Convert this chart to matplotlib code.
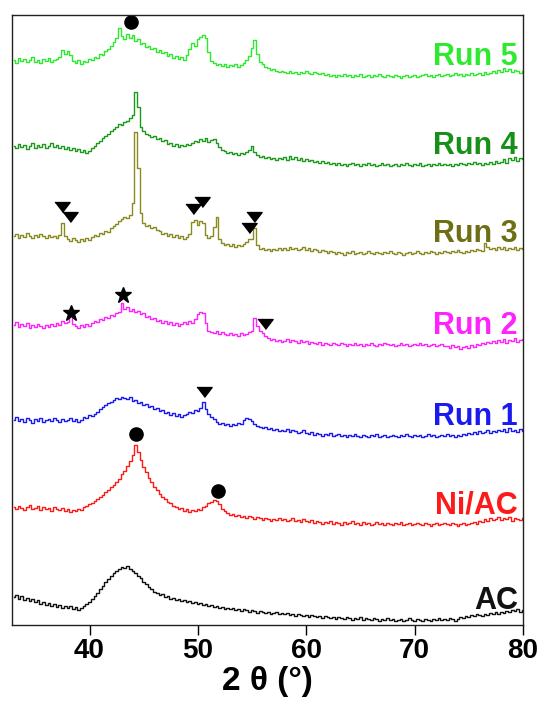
# ============================================================
# FILE: plot.py
#
# Difratogramas de raios-X (AC, Ni/AC e Run 1-5), empilhados.
# Gera out.png (541x707 px).
# ============================================================

import numpy as np
import matplotlib
matplotlib.use("Agg")
import matplotlib.pyplot as plt
import matplotlib.transforms as mtransforms


# ============================================================
# DADOS (intensidade relativa à linha de base de cada curva)
# ============================================================

TWO_THETA = np.arange(33.0, 80.001, 0.25)   # grelha de 2θ (189 pontos)

AC = [
    23, 25, 21, 24, 20, 22, 19, 21, 18, 20, 16, 18, 15, 17, 14, 16, 13, 15, 12, 14,
    12, 14, 11, 13, 10, 12, 14, 16, 18, 21, 24, 27, 31, 34, 38, 41, 44, 47, 49, 51,
    53, 52, 54, 51, 49, 47, 44, 42, 38, 36, 33, 31, 28, 27, 25, 26, 23, 24, 21, 22,
    20, 21, 19, 20, 18, 19, 17, 18, 16, 17, 15, 16, 14, 15, 13, 14, 12, 13, 11, 12,
    11, 12, 10, 11, 9, 11, 10, 8, 10, 9, 7, 9, 8, 7, 8, 6, 7, 8, 6, 7,
    6, 7, 5, 6, 4, 6, 5, 4, 5, 3, 5, 4, 3, 4, 2, 4, 3, 2, 3, 1,
    3, 2, 1, 3, 2, 0, 2, 1, 3, 0, 2, 1, 0, 2, 1, -1, 1, 0, 2, 0,
    1, -1, 0, 1, -1, 0, 2, 0, -1, 1, 0, -1, 1, 0, -1, 1, 0, 2, 0, 1,
    0, 2, 1, -1, 1, 3, 2, 4, 3, 5, 4, 6, 5, 4, 6, 5, 7, 6, 8, 6,
    8, 7, 9, 8, 10, 9, 11, 8, 10,
]

NI_AC = [
    17, 15, 18, 16, 14, 17, 19, 15, 16, 18, 14, 17, 15, 16, 13, 17, 15, 14, 16, 13,
    15, 12, 14, 13, 15, 14, 17, 18, 20, 21, 23, 25, 27, 29, 32, 34, 37, 39, 42, 45,
    50, 53, 58, 63, 69, 79, 72, 64, 57, 52, 46, 42, 37, 34, 30, 27, 25, 22, 21, 18,
    17, 15, 16, 13, 15, 12, 14, 13, 15, 14, 17, 18, 21, 22, 24, 23, 20, 15, 13, 11,
    9, 10, 8, 9, 7, 8, 6, 8, 7, 5, 7, 6, 4, 6, 5, 3, 5, 4, 6, 4,
    5, 3, 4, 6, 3, 4, 2, 5, 3, 2, 4, 1, 3, 2, 0, 2, 1, 3, 0, 2,
    1, -1, 2, 0, 1, 3, 0, 1, -1, 2, 0, 1, -1, 0, 2, 0, 1, -1, 1, 0,
    -1, 1, 0, 2, -1, 0, 1, -1, 0, 1, 0, -1, 1, 0, -2, 0, 1, -1, 0, 1,
    0, -1, 1, 0, -2, 0, 1, -1, 0, 1, 2, 0, 3, 2, 5, 3, 6, 4, 5, 7,
    4, 6, 5, 7, 3, 6, 5, 4, 6,
]

RUN_1 = [
    16, 19, 15, 17, 14, 18, 16, 13, 17, 15, 18, 14, 16, 17, 15, 18, 16, 14, 17, 15,
    16, 18, 15, 17, 14, 16, 19, 18, 21, 20, 22, 24, 27, 29, 31, 33, 34, 36, 38, 37,
    39, 38, 37, 39, 35, 36, 33, 34, 31, 32, 29, 30, 27, 28, 25, 26, 23, 24, 21, 23,
    20, 22, 19, 21, 22, 24, 23, 26, 25, 28, 34, 27, 22, 19, 17, 14, 12, 13, 11, 12,
    10, 12, 11, 13, 12, 16, 18, 17, 15, 12, 10, 9, 8, 9, 7, 8, 6, 7, 5, 6,
    5, 7, 4, 6, 5, 3, 4, 6, 3, 2, 4, 1, 3, 2, 0, 2, 1, 3, 0, 1,
    2, 0, 1, -1, 1, 0, 2, 0, -1, 1, 0, -1, 1, 0, 2, -1, 0, 1, -1, 0,
    1, 0, -1, 1, 0, 2, 0, -1, 1, 0, 1, -1, 0, 2, 0, 1, -1, 0, 1, 0,
    2, 0, 1, -1, 1, 0, 2, 1, 3, 2, 4, 2, 5, 3, 4, 6, 3, 5, 4, 6,
    5, 7, 4, 8, 5, 6, 4, 7, 5,
]

RUN_2 = [
    20, 23, 18, 21, 19, 22, 17, 20, 18, 21, 19, 17, 20, 18, 21, 19, 22, 20, 24, 22,
    23, 30, 21, 19, 17, 20, 18, 21, 19, 22, 24, 23, 26, 25, 28, 27, 30, 29, 32, 33,
    42, 36, 38, 34, 36, 33, 34, 31, 32, 28, 29, 26, 27, 24, 25, 22, 24, 21, 23, 20,
    22, 19, 21, 23, 21, 24, 22, 26, 31, 33, 32, 22, 14, 13, 12, 14, 11, 13, 11, 10,
    12, 10, 11, 9, 12, 10, 11, 13, 14, 27, 19, 14, 12, 9, 7, 5, 6, 4, 5, 3,
    4, 6, 3, 5, 4, 2, 5, 3, 4, 1, 3, 2, 1, 3, 0, 2, 1, 0, 2, 1,
    0, 2, 1, -1, 1, 0, 2, 0, 1, -1, 1, 0, 2, 0, -1, 1, 0, 2, 1, 0,
    1, -1, 0, 2, 0, 1, -1, 0, 1, 0, 2, 0, 1, -1, 0, 1, -1, 0, 1, -1,
    -1, -3, 0, -2, -1, -4, -2, -1, -3, 0, -2, 1, 0, 2, 1, 3, 2, 4, 2, 5,
    3, 6, 2, 5, 4, 7, 3, 5, 6,
]

RUN_3 = [
    17, 19, 15, 18, 16, 20, 17, 15, 18, 16, 19, 17, 15, 18, 16, 17, 15, 18, 30, 17,
    14, 12, 15, 13, 11, 14, 12, 15, 13, 16, 18, 17, 20, 19, 22, 21, 25, 27, 29, 32,
    34, 36, 35, 38, 50, 121, 85, 40, 30, 27, 28, 25, 26, 23, 22, 19, 20, 17, 19, 16,
    18, 15, 17, 14, 16, 19, 31, 33, 28, 32, 30, 18, 15, 17, 26, 36, 14, 10, 8, 9,
    7, 9, 6, 8, 7, 9, 11, 14, 14, 25, 8, 4, 5, 3, 4, 2, 4, 3, 5, 3,
    5, 3, 6, 4, 5, 3, 4, 6, 3, 5, 2, 4, 3, 1, 3, 2, 0, 2, 1, -1,
    1, 0, -2, 1, 0, 2, -1, 0, 1, -1, 0, 2, 0, -1, 1, 0, -1, 1, 0, 2,
    0, -1, 1, 0, -2, 0, 1, -1, 0, 2, 0, -1, 1, 0, 2, 1, -1, 1, 0, 2,
    1, 0, 2, 1, 3, 1, 0, 2, 1, 3, 2, 4, 3, 2, 10, 6, 4, 5, 3, 6,
    4, 6, 3, 5, 4, 6, 3, 5, 4,
]

RUN_4 = [
    19, 17, 21, 18, 20, 16, 19, 22, 17, 20, 18, 21, 17, 19, 22, 18, 20, 17, 19, 16,
    18, 15, 17, 14, 16, 13, 15, 12, 14, 17, 19, 22, 24, 27, 29, 31, 34, 36, 38, 41,
    40, 43, 44, 47, 50, 73, 58, 38, 34, 31, 30, 28, 29, 26, 27, 24, 25, 21, 22, 19,
    21, 18, 20, 19, 21, 20, 22, 24, 23, 26, 24, 27, 23, 25, 26, 22, 18, 15, 14, 12,
    13, 11, 12, 10, 12, 11, 13, 15, 19, 13, 10, 8, 9, 7, 8, 6, 7, 5, 7, 6,
    8, 5, 9, 6, 8, 5, 7, 4, 6, 4, 5, 3, 4, 2, 4, 2, 3, 1, 2, 0,
    2, 0, 1, -1, 1, 2, 0, 1, -1, 1, 0, 2, 0, 1, -1, 0, 2, 0, 1, -1,
    0, 1, -1, 1, 0, 2, 0, -1, 1, 0, 2, -1, 0, 1, -1, 1, 0, 2, 0, 1,
    0, 1, -1, 1, 0, 2, 1, 0, 2, 1, 3, 1, 2, 0, 2, 1, 3, 1, 4, 2,
    3, 6, 2, 7, 5, 8, 4, 7, 6,
]

RUN_5 = [
    16, 13, 18, 15, 17, 14, 16, 19, 14, 16, 13, 17, 15, 18, 14, 16, 17, 19, 26, 22,
    25, 21, 15, 13, 16, 12, 15, 14, 17, 16, 19, 18, 22, 21, 25, 27, 30, 34, 38, 48,
    40, 37, 42, 38, 41, 35, 37, 32, 33, 29, 30, 27, 28, 24, 26, 23, 24, 20, 22, 18,
    20, 17, 19, 16, 21, 27, 33, 30, 37, 39, 41, 38, 24, 15, 13, 11, 12, 10, 12, 9,
    11, 10, 12, 9, 11, 13, 16, 20, 28, 36, 22, 14, 12, 9, 8, 6, 7, 5, 4, 5,
    4, 3, 5, 3, 4, 2, 4, 3, 5, 3, 2, 4, 3, 2, 3, 1, 2, 0, 1, -1,
    1, 0, 2, 0, 1, -1, 1, 0, 2, -1, 0, 1, -1, 1, 0, 2, 0, -1, 1, 0,
    -1, 1, 0, -2, 0, 1, -1, 0, 1, -1, 0, 1, 2, 0, 1, -1, 1, 2, 0, 1,
    2, 0, 1, 3, 1, 2, 0, 2, 1, 3, 1, 2, 3, 1, 4, 2, 3, 5, 3, 6,
    4, 8, 5, 7, 4, 6, 5, 3, 5,
]

SERIES  = ["AC", "Ni/AC", "Run 1", "Run 2", "Run 3", "Run 4", "Run 5"]
VALUES  = [AC, NI_AC, RUN_1, RUN_2, RUN_3, RUN_4, RUN_5]
OFFSETS = [5, 101, 189, 280, 372, 460, 549]

# Marcadores de fases: série, posição 2θ e altura acima da linha de base
CIRCLE_RUN = ["Run 5", "Ni/AC", "Ni/AC"]
CIRCLE_T   = [43.8, 44.27, 51.81]
CIRCLE_H   = [54, 90, 33]

TRI_RUN = ["Run 3", "Run 3", "Run 3", "Run 3", "Run 3", "Run 3", "Run 2", "Run 1"]
TRI_T   = [37.48, 38.18, 49.54, 50.37, 54.68, 55.2, 56.15, 50.52]
TRI_H   = [46, 36, 44, 51, 25, 36, 21, 44]

STAR_RUN = ["Run 2", "Run 2"]
STAR_T   = [38.3, 43.13]
STAR_H   = [32, 50]

X_TICKS = [40, 50, 60, 70, 80]


# ============================================================
# CONFIGURAÇÃO VISUAL
# ============================================================

LINE_COLORS = {
    "AC":    "#111111",
    "Ni/AC": "#FF1A1A",
    "Run 1": "#1A1AF0",
    "Run 2": "#FF22FF",
    "Run 3": "#8A8A22",
    "Run 4": "#1C9A1C",
    "Run 5": "#2EEA2E",
}

# o texto do Run 3 é um pouco mais escuro que a linha
TEXT_COLORS = dict(LINE_COLORS)
TEXT_COLORS["Run 3"] = "#6E6E14"
TEXT_COLORS["Run 4"] = "#179017"

plt.rcParams["font.family"] = ["Liberation Sans", "DejaVu Sans"]
plt.rcParams["font.weight"] = "bold"

TRI_MARKER = [(-1, 0.65), (1, 0.65), (0, -0.65)]   # triângulo achatado


# ============================================================
# PLOT
# ============================================================

fig = plt.figure(figsize=(5.41, 7.07), dpi=100)
ax = fig.add_axes([0.02126, 0.11598, 0.9455, 0.8628])

base = dict(zip(SERIES, OFFSETS))
trans = mtransforms.blended_transform_factory(ax.transAxes, ax.transData)

for name, vals, off in zip(SERIES, VALUES, OFFSETS):
    y = np.asarray(vals, dtype=float) + off
    ax.plot(TWO_THETA, y, color=LINE_COLORS[name], linewidth=1.0,
            drawstyle="steps-mid")

    # rótulo à direita, alinhado pela base do texto
    ax.text(0.99, off + 11, name, transform=trans, color=TEXT_COLORS[name],
            fontsize=22, fontweight="bold", ha="right", va="baseline")

# marcadores
ax.plot(CIRCLE_T, [base[r] + h for r, h in zip(CIRCLE_RUN, CIRCLE_H)],
        linestyle="none", marker="o", markersize=9.5, color="black")
ax.plot(TRI_T, [base[r] + h for r, h in zip(TRI_RUN, TRI_H)],
        linestyle="none", marker=TRI_MARKER, markersize=11, color="black")
ax.plot(STAR_T, [base[r] + h for r, h in zip(STAR_RUN, STAR_H)],
        linestyle="none", marker="*", markersize=12, color="black")

ax.set_xlim(32.8, 80)
ax.set_ylim(0, 610)
ax.set_yticks([])
ax.set_xticks(X_TICKS)
ax.set_xticklabels([str(t) for t in X_TICKS])
ax.tick_params(axis="x", direction="out", length=7, width=1.0,
               labelsize=20, pad=2)
for lab in ax.get_xticklabels():
    lab.set_fontweight("bold")

for spine in ax.spines.values():
    spine.set_linewidth(1.0)
    spine.set_color("#222222")

ax.set_xlabel("2 θ (°)", fontsize=24, fontweight="bold", labelpad=2)

fig.savefig("out.png", dpi=100)
